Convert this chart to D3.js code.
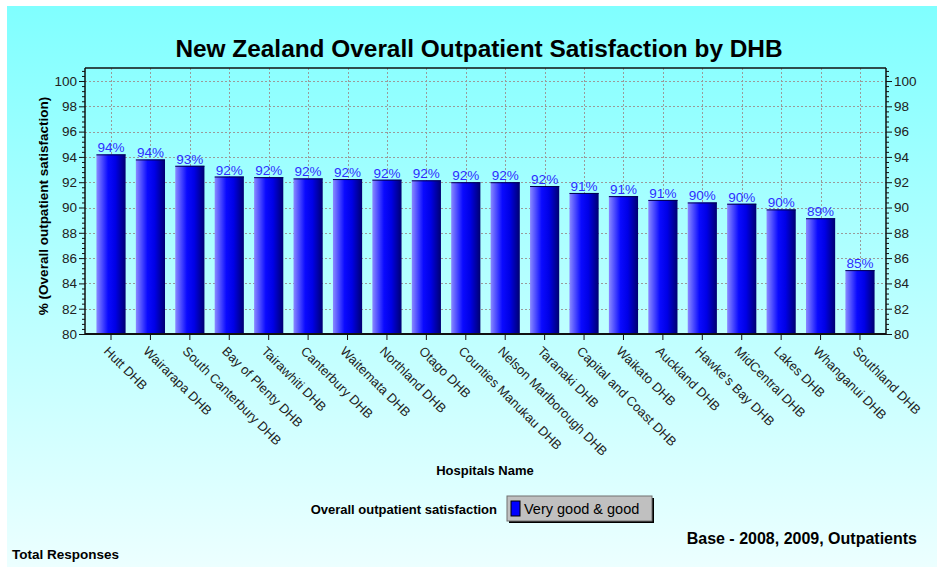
<!DOCTYPE html>
<html>
<head>
<meta charset="utf-8">
<script src="https://d3js.org/d3.v7.min.js"></script>
<style>
  html, body { margin: 0; padding: 0; background: #fff; }
  svg { display: block; font-family: "Liberation Sans", Arial, sans-serif; }
</style>
</head>
<body>
<svg id="chart" width="937" height="567"></svg>
<script>
// ── Data ────────────────────────────────────────────────────────────────
const hospitals = [
    'Hutt DHB', 'Wairarapa DHB', 'South Canterbury DHB', 'Bay of Plenty DHB',
    'Tairawhiti DHB', 'Canterbury DHB', 'Waitemata DHB', 'Northland DHB',
    'Otago DHB', 'Counties Manukau DHB', 'Nelson Marlborough DHB', 'Taranaki DHB',
    'Capital and Coast DHB', 'Waikato DHB', 'Auckland DHB', "Hawke's Bay DHB",
    'MidCentral DHB', 'Lakes DHB', 'Whanganui DHB', 'Southland DHB'
];
const satisfaction = [
    94.2, 93.8, 93.3, 92.45, 92.4, 92.3, 92.25, 92.2, 92.15, 92.0,
    92.0, 91.7, 91.15, 90.9, 90.6, 90.4, 90.3, 89.85, 89.15, 85.05
];
const yTicks = [80, 82, 84, 86, 88, 90, 92, 94, 96, 98, 100];

const chartTitle = 'New Zealand Overall Outpatient Satisfaction by DHB';
const yTitle = '% (Overall outpatient satisfaction)';
const xTitle = 'Hospitals Name';
const legendTitle = 'Overall outpatient satisfaction';
const seriesName = 'Very good & good';
const baseNote = 'Base - 2008, 2009, Outpatients';
const footNote = 'Total Responses';

// ── Layout ──────────────────────────────────────────────────────────────
const W = 937, H = 567;
const plot = { left: 85, top: 68, right: 886, bottom: 334 };
const FONT = '"Liberation Sans", Arial, sans-serif';

const svg = d3.select('#chart');
const defs = svg.append('defs');

// background gradient (cyan fading to near white)
const bg = defs.append('linearGradient')
    .attr('id', 'bg').attr('x1', 0).attr('y1', 0).attr('x2', 0).attr('y2', 1);
bg.append('stop').attr('offset', '0%').attr('stop-color', '#80ffff');
bg.append('stop').attr('offset', '100%').attr('stop-color', '#ecffff');

// bar gradient: light violet-blue → blue → navy
const barGrad = defs.append('linearGradient')
    .attr('id', 'barGrad').attr('x1', 0).attr('y1', 0).attr('x2', 1).attr('y2', 0);
barGrad.append('stop').attr('offset', '0%').attr('stop-color', '#8a8aff');
barGrad.append('stop').attr('offset', '40%').attr('stop-color', '#0a0aff');
barGrad.append('stop').attr('offset', '65%').attr('stop-color', '#0000e6');
barGrad.append('stop').attr('offset', '100%').attr('stop-color', '#000070');

svg.append('rect')
    .attr('x', 7).attr('y', 6)
    .attr('width', W - 7).attr('height', H - 6)
    .attr('fill', 'url(#bg)');

// ── Scales ──────────────────────────────────────────────────────────────
const x = d3.scaleBand()
    .domain(hospitals)
    .range([91.3, 879.7])
    .paddingInner(0.26)
    .paddingOuter(0.13);

const y = d3.scaleLinear()
    .domain([80, 101.03])
    .range([plot.bottom, plot.top]);

const minorTicks = d3.range(80, 101.01, 0.4).filter(v => Math.abs(v / 2 - Math.round(v / 2)) > 0.01);

// ── Grid ────────────────────────────────────────────────────────────────
const grid = svg.append('g')
    .attr('stroke', '#9a9a9a')
    .attr('stroke-dasharray', '2,2')
    .attr('stroke-width', 1)
    .attr('shape-rendering', 'crispEdges');
grid.selectAll('line.h')
    .data(yTicks)
    .join('line')
    .attr('class', 'h')
    .attr('x1', plot.left).attr('x2', plot.right)
    .attr('y1', d => Math.round(y(d)) + 0.5).attr('y2', d => Math.round(y(d)) + 0.5);
grid.selectAll('line.v')
    .data(hospitals)
    .join('line')
    .attr('class', 'v')
    .attr('x1', d => Math.round(x(d) + x.bandwidth() / 2) + 0.5)
    .attr('x2', d => Math.round(x(d) + x.bandwidth() / 2) + 0.5)
    .attr('y1', plot.top).attr('y2', plot.bottom);

// ── Bars ────────────────────────────────────────────────────────────────
const data = hospitals.map((h, i) => ({ name: h, value: satisfaction[i] }));

const bars = svg.append('g');
bars.selectAll('rect')
    .data(data)
    .join('rect')
    .attr('x', d => x(d.name))
    .attr('y', d => y(d.value))
    .attr('width', x.bandwidth())
    .attr('height', d => y(80) - y(d.value))
    .attr('fill', 'url(#barGrad)');

// thin dark top edge
bars.selectAll('line')
    .data(data)
    .join('line')
    .attr('x1', d => x(d.name))
    .attr('x2', d => x(d.name) + x.bandwidth())
    .attr('y1', d => y(d.value) + 0.5)
    .attr('y2', d => y(d.value) + 0.5)
    .attr('stroke', '#000050')
    .attr('stroke-width', 1);

// value labels
svg.append('g')
    .selectAll('text')
    .data(data)
    .join('text')
    .attr('x', d => x(d.name) + x.bandwidth() / 2)
    .attr('y', d => y(d.value) - 2)
    .attr('text-anchor', 'middle')
    .attr('font-size', '13.5px')
    .attr('fill', '#2e2eff')
    .text(d => Math.round(d.value) + '%');

// ── Axes ────────────────────────────────────────────────────────────────
const axisColor = '#111';

function yAxis(side) {
    const make = side === 'left' ? d3.axisLeft : d3.axisRight;
    const xPos = side === 'left' ? plot.left : plot.right;

    // minor ticks in their own group
    const minor = svg.append('g')
        .attr('transform', `translate(${xPos},0)`)
        .call(make(y).tickValues(minorTicks).tickSize(3).tickFormat(''));
    minor.select('.domain').remove();
    minor.selectAll('line').attr('stroke', axisColor);

    const g = svg.append('g')
        .attr('transform', `translate(${xPos},0)`)
        .call(make(y).tickValues(yTicks).tickSize(6).tickPadding(2).tickFormat(d3.format('d')));
    g.selectAll('text')
        .attr('font-size', '13.5px')
        .attr('font-family', FONT)
        .attr('fill', '#222');
    g.selectAll('line').attr('stroke', axisColor);
    g.select('.domain')
        .attr('stroke', axisColor)
        .attr('stroke-width', 1.5)
        .attr('d', `M0,${plot.top}V${plot.bottom}`);
}
yAxis('left');
yAxis('right');

// top border
svg.append('line')
    .attr('x1', plot.left).attr('x2', plot.right)
    .attr('y1', plot.top).attr('y2', plot.top)
    .attr('stroke', axisColor).attr('stroke-width', 1.5);

// x axis
const xAxisG = svg.append('g')
    .attr('transform', `translate(0,${plot.bottom})`)
    .call(d3.axisBottom(x).tickSize(6).tickFormat(''));
xAxisG.select('.domain')
    .attr('stroke', axisColor).attr('stroke-width', 2)
    .attr('d', `M${plot.left},0H${plot.right}`);
xAxisG.selectAll('line').attr('stroke', axisColor);

svg.append('g')
    .selectAll('text')
    .data(hospitals)
    .join('text')
    .attr('transform', d => `translate(${x(d) + x.bandwidth() / 2 - 8},${plot.bottom + 18}) rotate(45)`)
    .attr('font-size', '13px')
    .attr('fill', '#222')
    .text(d => d);

// ── Titles ──────────────────────────────────────────────────────────────
svg.append('text')
    .attr('x', 479).attr('y', 57)
    .attr('text-anchor', 'middle')
    .attr('font-size', '24.4px')
    .attr('font-weight', 'bold')
    .attr('fill', '#000')
    .text(chartTitle);

svg.append('text')
    .attr('transform', `translate(48,${(plot.top + plot.bottom) / 2 + 5}) rotate(-90)`)
    .attr('text-anchor', 'middle')
    .attr('font-size', '13.5px')
    .attr('font-weight', 'bold')
    .attr('fill', '#000')
    .text(yTitle);

svg.append('text')
    .attr('x', 485).attr('y', 475)
    .attr('text-anchor', 'middle')
    .attr('font-size', '13px')
    .attr('font-weight', 'bold')
    .attr('fill', '#000')
    .text(xTitle);

// ── Legend ──────────────────────────────────────────────────────────────
svg.append('text')
    .attr('x', 497).attr('y', 514)
    .attr('text-anchor', 'end')
    .attr('font-size', '13px')
    .attr('font-weight', 'bold')
    .attr('fill', '#000')
    .text(legendTitle);

const lg = svg.append('g').attr('transform', 'translate(507,496)');
lg.append('rect').attr('x', 2).attr('y', 2).attr('width', 145).attr('height', 25).attr('fill', '#000');
lg.append('rect').attr('x', 0).attr('y', 0).attr('width', 145).attr('height', 25)
    .attr('fill', '#c0c0c0').attr('stroke', '#707070').attr('stroke-width', 1);
lg.append('rect').attr('x', 4).attr('y', 5).attr('width', 9).attr('height', 15)
    .attr('fill', '#0000ff').attr('stroke', '#000').attr('stroke-width', 1);
lg.append('text')
    .attr('x', 17).attr('y', 18)
    .attr('font-size', '14.5px')
    .attr('fill', '#000')
    .text(seriesName);

svg.append('text')
    .attr('x', 917).attr('y', 544)
    .attr('text-anchor', 'end')
    .attr('font-size', '16px')
    .attr('font-weight', 'bold')
    .attr('fill', '#000')
    .text(baseNote);

svg.append('text')
    .attr('x', 12).attr('y', 559)
    .attr('font-size', '13.5px')
    .attr('font-weight', 'bold')
    .attr('fill', '#000')
    .text(footNote);
</script>
</body>
</html>
